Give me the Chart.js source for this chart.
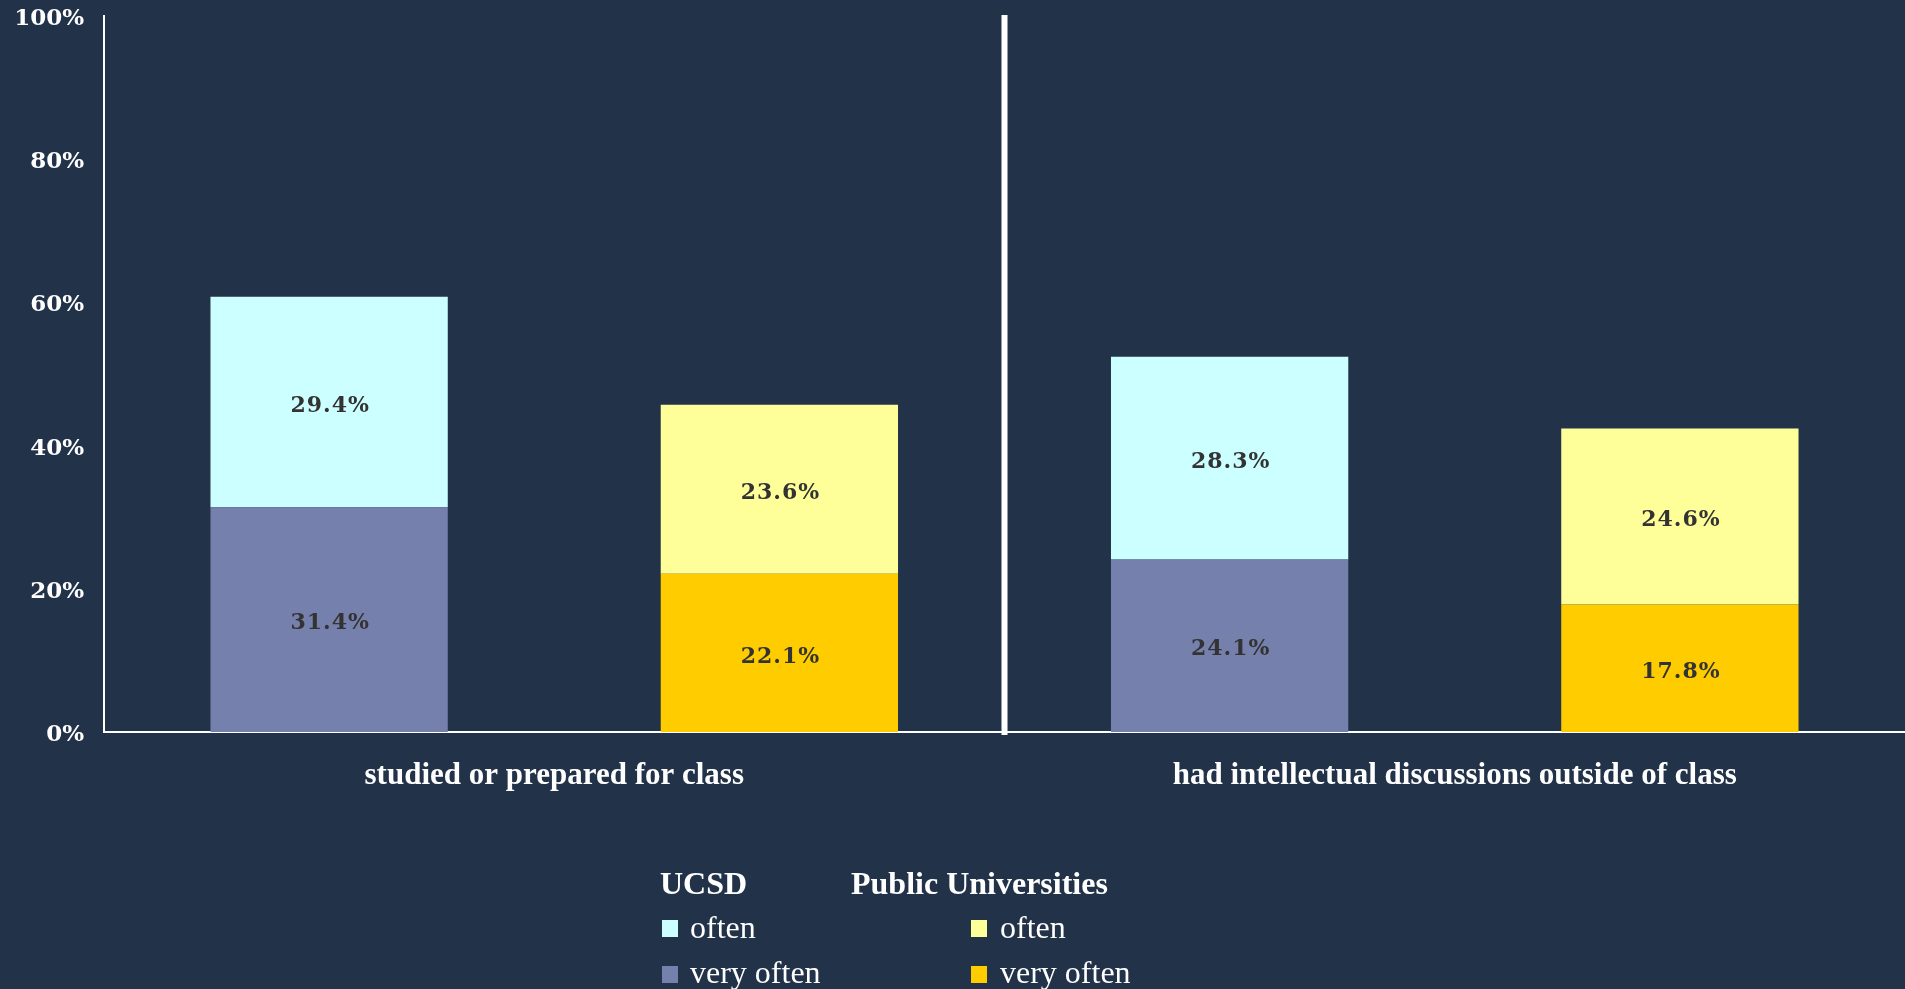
<!DOCTYPE html>
<html>
<head>
<meta charset="utf-8">
<script src="https://cdn.jsdelivr.net/npm/chart.js@4/dist/chart.umd.min.js"></script>
<style>
    body { margin: 0; background: #223249; overflow: hidden; }
    #wrap { position: relative; width: 1905px; height: 989px; }
    #legend { position: absolute; left: 0; top: 0; width: 100%; height: 100%; pointer-events: none;
        font-family: "Liberation Serif", serif; color: #fff; font-size: 32px; }
    #legend div { position: absolute; white-space: nowrap; line-height: 1; }
    #legend .title { font-weight: bold; }
    #legend .sw { width: 16px; height: 17px; }
</style>
</head>
<body>
<div id="wrap">
    <canvas id="chart" width="1905" height="989"></canvas>
    <div id="legend"></div>
</div>
<script>
const categories = ["studied or prepared for class", "had intellectual discussions outside of class"];
const ucsdVeryOften = [31.4, 24.1];
const ucsdOften = [29.4, 28.3];
const publicVeryOften = [22.1, 17.8];
const publicOften = [23.6, 24.6];
const yTicks = [0, 20, 40, 60, 80, 100];

const colors = {
    ucsdOften: "#CCFFFF",
    ucsdVeryOften: "#7580AD",
    publicOften: "#FFFF99",
    publicVeryOften: "#FFCC00"
};

// white divider between the two question groups
const dividerPlugin = {
    id: "divider",
    afterDatasetsDraw(chart) {
        const { ctx, chartArea, scales } = chart;
        const x = (scales.x.getPixelForValue(0) + scales.x.getPixelForValue(1)) / 2;
        ctx.save();
        ctx.strokeStyle = "#fff";
        ctx.lineWidth = 6;
        ctx.beginPath();
        ctx.moveTo(x, chartArea.top - 1);
        ctx.lineTo(x, chartArea.bottom + 3);
        ctx.stroke();
        ctx.restore();
    }
};

// percentage printed in the middle of each segment
const valueLabels = {
    id: "valueLabels",
    afterDatasetsDraw(chart) {
        const ctx = chart.ctx;
        ctx.save();
        ctx.font = "bold 22px 'DejaVu Serif'";
        ctx.letterSpacing = "1px";
        ctx.fillStyle = "#333333";
        ctx.textAlign = "center";
        ctx.textBaseline = "middle";
        chart.data.datasets.forEach((ds, i) => {
            chart.getDatasetMeta(i).data.forEach((bar, j) => {
                const y = (bar.y + bar.base) / 2 + 4;
                ctx.fillText(ds.data[j].toFixed(1) + "%", bar.x + 1, y);
            });
        });
        ctx.restore();
    }
};

new Chart(document.getElementById("chart"), {
    type: "bar",
    data: {
        labels: categories,
        datasets: [
            { label: "very often", data: ucsdVeryOften, backgroundColor: colors.ucsdVeryOften, stack: "ucsd" },
            { label: "often", data: ucsdOften, backgroundColor: colors.ucsdOften, stack: "ucsd" },
            { label: "very often", data: publicVeryOften, backgroundColor: colors.publicVeryOften, stack: "public" },
            { label: "often", data: publicOften, backgroundColor: colors.publicOften, stack: "public" }
        ]
    },
    options: {
        responsive: false,
        animation: false,
        layout: { padding: { top: 16, right: 0, bottom: 0, left: 0 } },
        datasets: { bar: { categoryPercentage: 1.0, barPercentage: 0.527 } },
        plugins: { legend: { display: false }, tooltip: { enabled: false } },
        scales: {
            x: {
                stacked: true,
                grid: { display: false },
                border: { display: true, color: "#fff", width: 2 },
                ticks: {
                    color: "#fff",
                    padding: 17,
                    font: { family: "'Liberation Serif'", size: 31, weight: "bold" }
                },
                afterFit(scale) { scale.height = 257; }
            },
            y: {
                stacked: true,
                min: yTicks[0],
                max: yTicks[yTicks.length - 1],
                afterBuildTicks(scale) { scale.ticks = yTicks.map(v => ({ value: v })); },
                grid: { display: false },
                border: { display: true, color: "#fff", width: 2 },
                ticks: {
                    color: "#fff",
                    padding: 12,
                    labelOffset: 3,
                    font: { family: "'DejaVu Serif'", size: 23, weight: "bold" },
                    callback: v => v + "%"
                },
                afterFit(scale) {
                    scale.width = 104;
                    scale.paddingTop = 0;
                    scale.paddingBottom = 0;
                }
            }
        }
    },
    plugins: [dividerPlugin, valueLabels]
});

// two-column legend: UCSD / Public Universities
function buildLegend() {
    const lg = document.getElementById("legend");
    const cols = [
        { title: "UCSD", x: 660, sx: 662, tx: 690, items: [["often", colors.ucsdOften], ["very often", colors.ucsdVeryOften]] },
        { title: "Public Universities", x: 851, sx: 971, tx: 1000, items: [["often", colors.publicOften], ["very often", colors.publicVeryOften]] }
    ];
    const rowTop = [920, 966];
    const textTop = [911, 956];
    cols.forEach(c => {
        lg.innerHTML += `<div class="title" style="left:${c.x}px;top:867px">${c.title}</div>`;
        c.items.forEach((it, k) => {
            lg.innerHTML += `<div class="sw" style="left:${c.sx}px;top:${rowTop[k]}px;background:${it[1]}"></div>`;
            lg.innerHTML += `<div style="left:${c.tx}px;top:${textTop[k]}px">${it[0]}</div>`;
        });
    });
}
buildLegend();
</script>
</body>
</html>
